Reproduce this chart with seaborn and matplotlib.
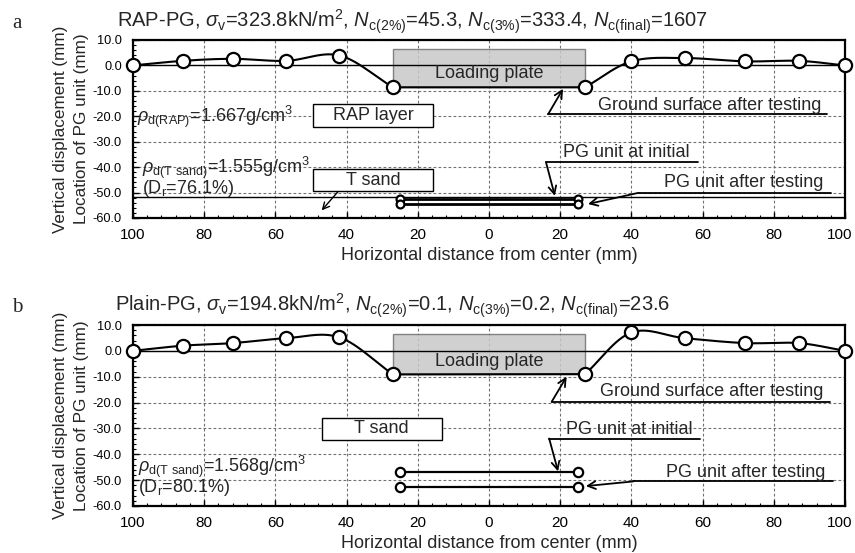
import numpy as np
import pandas as pd
import matplotlib.pyplot as plt
import seaborn as sns
from matplotlib.patches import Rectangle
from matplotlib.ticker import MultipleLocator, FuncFormatter
from matplotlib.transforms import ScaledTranslation

sns.set_theme(style="ticks")
plt.rcParams["font.family"] = ["Liberation Sans", "DejaVu Sans"]
plt.rcParams["mathtext.fontset"] = "custom"
plt.rcParams["mathtext.rm"] = "Liberation Sans"
plt.rcParams["mathtext.it"] = "Liberation Sans:italic"
plt.rcParams["mathtext.bf"] = "Liberation Sans:bold"

# ---------------------------
# Data
# ---------------------------
# ground surface after testing (mm)
x_surf = [-100, -86, -72, -57, -42, -27, 27, 40, 55, 72, 87, 100]
y_surf_rap = [0.0, 1.8, 2.6, 1.8, 3.9, -8.6, -8.6, 1.6, 2.9, 1.6, 1.8, 0.0]
y_surf_plain = [0.0, 2.0, 3.0, 4.9, 5.2, -9.1, -9.0, 7.1, 4.9, 3.0, 3.0, 0.0]

# PG unit ends and levels (mm)
pg_x = [-25, 25]
pg_rap = {"initial": -52.4, "after": -54.6}
pg_plain = {"initial": -47.0, "after": -52.5}
rap_sand_interface = -51.8

# loading plate extent (mm)
plate_x = [-27, 27]
plate_top = [6.6, 6.5]

# axis ticks
x_ticks = [-100, -80, -60, -40, -20, 0, 20, 40, 60, 80, 100]
y_ticks = [-60, -50, -40, -30, -20, -10, 0, 10]

titles = [
    r"RAP-PG, $\sigma_{\rm v}$=323.8kN/m$^{2}$, $N_{\rm c(2\%)}$=45.3, "
    r"$N_{\rm c(3\%)}$=333.4, $N_{\rm c(final)}$=1607",
    r"Plain-PG, $\sigma_{\rm v}$=194.8kN/m$^{2}$, $N_{\rm c(2\%)}$=0.1, "
    r"$N_{\rm c(3\%)}$=0.2, $N_{\rm c(final)}$=23.6",
]
density_text = [
    [r"$\rho_{\rm d(RAP)}$=1.667g/cm$^{3}$",
     r"$\rho_{\rm d(T\ sand)}$=1.555g/cm$^{3}$", r"(D$_{\rm r}$=76.1%)"],
    [r"$\rho_{\rm d(T\ sand)}$=1.568g/cm$^{3}$", r"(D$_{\rm r}$=80.1%)"],
]


def smooth(x, y, n=30):
    # Catmull-Rom curve through the measured points (drawing only)
    pts = np.column_stack([x, y]).astype(float)
    p = np.vstack([2 * pts[0] - pts[1], pts, 2 * pts[-1] - pts[-2]])
    t = np.linspace(0, 1, n, endpoint=False)[:, None]
    out = []
    for i in range(1, len(p) - 2):
        p0, p1, p2, p3 = p[i - 1], p[i], p[i + 1], p[i + 2]
        out.append(0.5 * (2 * p1 + (-p0 + p2) * t
                          + (2 * p0 - 5 * p1 + 4 * p2 - p3) * t ** 2
                          + (-p0 + 3 * p1 - 3 * p2 + p3) * t ** 3))
    out.append(pts[-1:])
    return np.vstack(out)


def draw_surface(ax, x, y):
    x = np.asarray(x)
    y = np.asarray(y)
    left = x < 0
    parts = [smooth(x[left], y[left]),
             np.column_stack([[x[left][-1], x[~left][0]], [y[left][-1], y[~left][0]]]),
             smooth(x[~left], y[~left])]
    curve = np.vstack(parts)
    sns.lineplot(x=curve[:, 0], y=curve[:, 1], sort=False, estimator=None,
                 color="black", lw=1.5, ax=ax, zorder=4)
    sns.scatterplot(x=x, y=y, s=90, color="white", edgecolor="black",
                    linewidth=1.6, ax=ax, zorder=5, clip_on=False)


def draw_pg(ax, levels, ms, lw):
    for key in ["initial", "after"]:
        lv = levels[key]
        ax.plot(pg_x, [lv, lv], color="black", lw=lw, zorder=4)
        sns.scatterplot(x=pg_x, y=[lv, lv], s=ms, color="white",
                        edgecolor="black", linewidth=1.6, ax=ax, zorder=5)


def callout(ax, text, x0, x1, yl, target, tx, ty):
    ax.plot([x0, x1], [yl, yl], color="black", lw=1.3, zorder=3)
    ax.annotate("", xy=target, xytext=(x0, yl),
                arrowprops=dict(arrowstyle="->", color="black", lw=1.3,
                                shrinkA=0, shrinkB=0, mutation_scale=14))
    ax.text(tx, ty, text, ha="center", va="center", fontsize=13, zorder=3)


def box_label(ax, text, x0, x1, y0, y1):
    ax.add_patch(Rectangle((x0, y0), x1 - x0, y1 - y0, facecolor="white",
                           edgecolor="black", lw=1.0, zorder=3))
    ax.text((x0 + x1) / 2, (y0 + y1) / 2, text, ha="center", va="center",
            fontsize=13, zorder=4)


def style_axes(ax):
    ax.set_xlim(-100, 100)
    ax.set_ylim(-60, 10)
    ax.set_xticks(x_ticks)
    ax.set_yticks(y_ticks)
    ax.xaxis.set_minor_locator(MultipleLocator(4))
    ax.yaxis.set_minor_locator(MultipleLocator(2))
    ax.xaxis.set_major_formatter(FuncFormatter(lambda v, p: f"{abs(v):.0f}"))
    ax.yaxis.set_major_formatter(FuncFormatter(lambda v, p: f"{v:.1f}"))
    ax.tick_params(axis="both", which="both", direction="in", colors="black")
    ax.tick_params(axis="x", which="major", length=4, width=1, labelsize=11, pad=7)
    ax.tick_params(axis="y", which="major", length=4, width=1, labelsize=9.2, pad=8)
    ax.tick_params(which="minor", length=2.5, width=0.8)
    ax.grid(True, which="major", color="#707070", ls=(0, (2.5, 2)), lw=0.8)
    ax.set_axisbelow(True)
    for s in ax.spines.values():
        s.set_linewidth(1.6)
        s.set_color("black")
        s.set_visible(True)
    ax.axhline(0, color="black", lw=1.0, zorder=2)
    ax.set_xlabel("Horizontal distance from center (mm)", fontsize=13, labelpad=4)
    ax.set_ylabel("Vertical displacement (mm)\nLocation of PG unit (mm)",
                  fontsize=12.3, linespacing=1.45)
    ax.yaxis.set_label_coords(-0.062, 0.5)
    # nudge the right-hand "100" so it stays inside the canvas
    last = ax.xaxis.get_major_ticks()[-1].label1
    last.set_transform(last.get_transform()
                       + ScaledTranslation(-5 / 100, 0, fig.dpi_scale_trans))


fig = plt.figure(figsize=(8.55, 5.53), dpi=100)
ax1 = fig.add_axes([133 / 855, 1 - 218 / 553, 712 / 855, 178 / 553])
ax2 = fig.add_axes([133 / 855, 1 - 506 / 553, 712 / 855, 181 / 553])

# ---------------------------
# Panel a: RAP-PG
# ---------------------------
style_axes(ax1)
ax1.add_patch(Rectangle((plate_x[0], y_surf_rap[5]), plate_x[1] - plate_x[0],
                        plate_top[0] - y_surf_rap[5], facecolor="#c8c8c8",
                        edgecolor="#707070", lw=1.0, alpha=0.85, zorder=1.5))
ax1.text(0, -3.0, "Loading plate", ha="center", va="center", fontsize=13, zorder=3)
ax1.axhline(rap_sand_interface, color="black", lw=1.0, zorder=2)
draw_surface(ax1, x_surf, y_surf_rap)
draw_pg(ax1, pg_rap, 32, 2.0)
box_label(ax1, "RAP layer", -49.4, -15.7, -24.3, -15.3)
box_label(ax1, "T sand", -49.4, -15.7, -49.4, -40.8)
ax1.annotate("", xy=(-47, -57), xytext=(-42.4, -49.6),
             arrowprops=dict(arrowstyle="->", color="black", lw=1.0,
                             shrinkA=0, shrinkB=0, mutation_scale=12))
ax1.text(-98.8, -20.4, density_text[0][0], ha="left", va="center", fontsize=13)
ax1.text(-97.5, -40.2, density_text[0][1], ha="left", va="center", fontsize=13)
ax1.text(-97.5, -48.3, density_text[0][2], ha="left", va="center", fontsize=13)
callout(ax1, "Ground surface after testing", 16.6, 95, -19.2, (20.8, -9.2), 62, -15.6)
callout(ax1, "PG unit at initial", 16, 58.7, -38, (18.5, -51.3), 38.6, -34.2)
callout(ax1, "PG unit after testing", 42, 96, -50.1, (27.8, -54.5), 71.5, -46.2)

# ---------------------------
# Panel b: Plain-PG
# ---------------------------
style_axes(ax2)
ax2.add_patch(Rectangle((plate_x[0], y_surf_plain[5]), plate_x[1] - plate_x[0],
                        plate_top[1] - y_surf_plain[5], facecolor="#c8c8c8",
                        edgecolor="#707070", lw=1.0, alpha=0.85, zorder=1.5))
ax2.text(0, -4.2, "Loading plate", ha="center", va="center", fontsize=13, zorder=3)
draw_surface(ax2, x_surf, y_surf_plain)
draw_pg(ax2, pg_plain, 45, 1.6)
box_label(ax2, "T sand", -47, -13.3, -34.4, -25.8)
ax2.text(-98.6, -44.7, density_text[1][0], ha="left", va="center", fontsize=13)
ax2.text(-98.6, -53.0, density_text[1][1], ha="left", va="center", fontsize=13)
callout(ax2, "Ground surface after testing", 17.6, 95.8, -19.7, (21.8, -10.0), 62.6, -15.6)
callout(ax2, "PG unit at initial", 16.9, 59.3, -33.9, (19.4, -46.6), 39.5, -30.6)
callout(ax2, "PG unit after testing", 40.5, 96.6, -50.5, (27.2, -52.3), 72, -47.0)

# titles and panel letters
fig.text(117 / 855, 1 - 22 / 553, titles[0], ha="left", va="center", fontsize=14.5)
fig.text(115 / 855, 1 - 306 / 553, titles[1], ha="left", va="center", fontsize=14.5)
fig.text(12 / 855, 1 - 24 / 553, "a", ha="left", va="center", fontsize=15,
         family="Liberation Serif")
fig.text(12 / 855, 1 - 308 / 553, "b", ha="left", va="center", fontsize=15,
         family="Liberation Serif")

fig.savefig("out.png", dpi=100)
